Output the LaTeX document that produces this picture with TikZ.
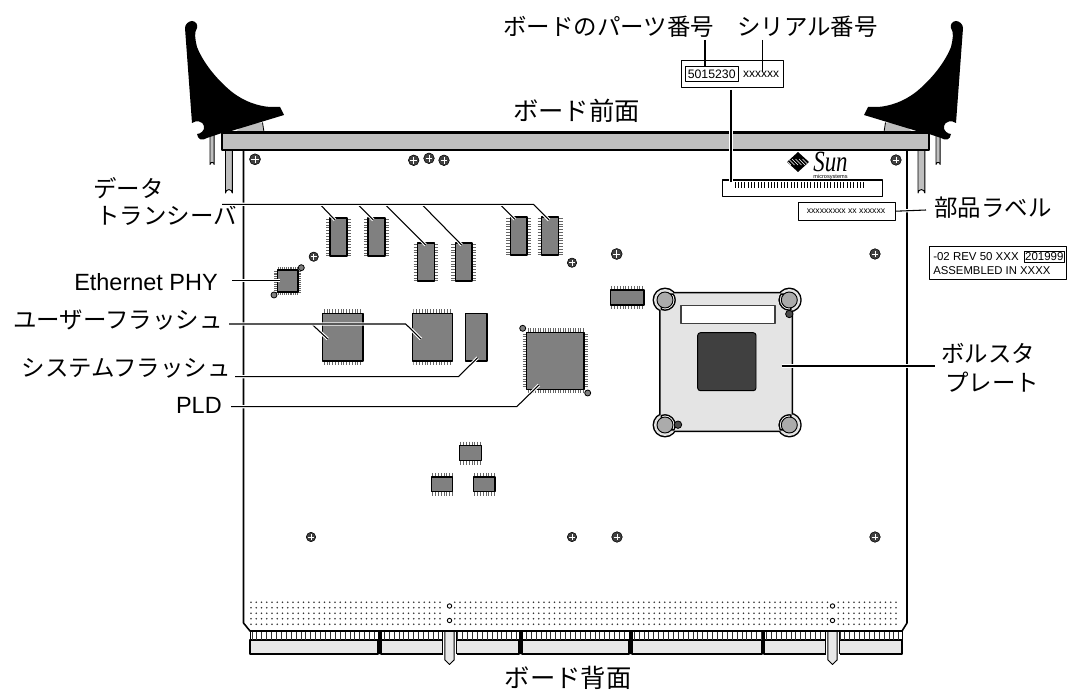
\documentclass[tikz,border=0pt]{standalone}
\usepackage{fontspec}
\setmainfont{Liberation Sans}
\newfontfamily\cjk{Noto Sans CJK JP}
\newfontfamily\sunf{Liberation Serif}
\tikzset{
  cjklabel/.style={inner sep=0pt,font=\cjk\fontsize{17.6}{17.6}\selectfont},
  cjkbig/.style={inner sep=0pt,font=\cjk\fontsize{19}{19}\selectfont},
  latin/.style={inner sep=0pt,font=\fontsize{17.6}{17.6}\selectfont},
  leader/.style={draw=black,line width=0.8pt,preaction={draw=white,line width=2.4pt}},
  chipbody/.style={fill=chipgray,draw=black,line width=0.9pt},
  legs/.style={draw=leggray,line width=0.7pt},
  ball/.style={fill=ballgray,draw=black,line width=0.6pt},
  labelbox/.style={draw=black,line width=0.7pt,fill=white},
}
\definecolor{chipgray}{HTML}{808080}
\definecolor{leggray}{HTML}{666666}
\definecolor{ballgray}{HTML}{808080}
\definecolor{bargray}{HTML}{BFBFBF}
\definecolor{plategray}{HTML}{E4E4E4}
\definecolor{holegray}{HTML}{ABABAB}
\definecolor{darkgray}{HTML}{404040}
\definecolor{connfill}{HTML}{E8E8E8}
\newcommand{\vchip}[4]{% x0 y0 x1 y1, legs left/right
  \pgfmathsetmacro\ya{#2+1.5}\pgfmathsetmacro\yb{#2+4.3}\pgfmathsetmacro\xl{#1-4}\pgfmathsetmacro\xr{#3+4}
  \foreach \yy in {\ya,\yb,...,#4} {\draw[legs] (\xl,\yy) -- (#1,\yy) (#3,\yy) -- (\xr,\yy);}
  \draw[chipbody] (#1,#2) rectangle (#3,#4);}
\newcommand{\hchip}[4]{% legs top/bottom
  \pgfmathsetmacro\xa{#1+1.5}\pgfmathsetmacro\xb{#1+4.3}\pgfmathsetmacro\yt{#2-4}\pgfmathsetmacro\yd{#4+4}
  \foreach \xx in {\xa,\xb,...,#3} {\draw[legs] (\xx,\yt) -- (\xx,#2) (\xx,#4) -- (\xx,\yd);}
  \draw[chipbody] (#1,#2) rectangle (#3,#4);}
\newcommand{\screw}[3]{% x y r
  \fill[black!75] (#1,#2) circle (#3);
  \draw[black,line width=0.4pt] (#1,#2) circle (#3);
  \draw[white,line width=0.45pt] ({#1-#3*0.65},#2) -- ({#1+#3*0.65},#2) (#1,{#2-#3*0.65}) -- (#1,{#2+#3*0.65});}
\newcommand{\latchshape}{%
  (185,28) .. controls (185,24) and (189,21) .. (192,21)
  .. controls (196,21) and (198,25) .. (197,28)
  .. controls (194,33) and (195,38) .. (197,47)
  .. controls (205,67) and (222,84) .. (232,92)
  .. controls (245,102) and (258,106) .. (270,107)
  -- (280,107) -- (284,115) -- (228,132) -- (222,133)
  -- (207,138) .. controls (202,141) and (198,140) .. (197,134)
  .. controls (200,134) and (205,131) .. (204,126)
  .. controls (203,121) and (196,120) .. (192,123) -- cycle}
\begin{document}
\begin{tikzpicture}[x=0.75pt,y=-0.75pt,line join=round]
\useasboundingbox (0,0) rectangle (1068,691);
% board
\fill[white] (243.5,150) rectangle (907,631);
\draw[line width=1.2pt] (243.5,150) -- (243.5,623) -- (250,631) -- (902,631) -- (907,623) -- (907,150);
% feet under latches
\fill[bargray] (244,124) -- (262.5,122.5) -- (264,132) -- (236,132) -- cycle;
\draw[line width=0.6pt] (262.5,122.5) -- (264,132);
\fill[bargray] (904,124) -- (885.5,122.5) -- (884,132) -- (912,132) -- cycle;
\draw[line width=0.6pt] (885.5,122.5) -- (884,132);
% pins
\draw[fill=bargray,line width=0.7pt] (210,135) -- (210,164.5) arc[start angle=180,end angle=360,radius=2.1] -- (214.2,135);
\draw[fill=bargray,line width=0.7pt] (225.5,150) -- (225.5,193) arc[start angle=180,end angle=360,radius=3.4] -- (232.3,150);
\draw[fill=bargray,line width=0.7pt] (936,135) -- (936,164.5) arc[start angle=180,end angle=360,radius=2.1] -- (940.2,135);
\draw[fill=bargray,line width=0.7pt] (918,150) -- (918,193) arc[start angle=180,end angle=360,radius=3.4] -- (924.8,150);
% latches
\fill[black] \latchshape;
\begin{scope}[xshift=861pt,xscale=-1]
\fill[black] \latchshape;
\end{scope}
% bar
\draw[fill=bargray,line width=0.8pt] (222,133) rectangle (929,150);
\draw[line width=1.8pt] (222,132) -- (929,132);
% screws
\foreach \sx/\sy/\sr in {255/159.3/5.5,413.7/160.3/5.3,429/158.3/5.3,444/160.3/5.3,896/160/5.3,875/254/5.3,313.7/256.7/4.7,572/262.7/4.7,616.7/254/5.5,311/537/4.7,572/537/4.7,617/537/5.3,875/537/5.3}{\screw{\sx}{\sy}{\sr}}
% chips
\vchip{330}{218}{347}{256}
\vchip{368}{218}{385}{256}
\vchip{417.7}{243}{434.3}{281}
\vchip{455.3}{243}{472}{281}
\vchip{510.3}{217}{527}{255}
\vchip{541.7}{217}{558.7}{255}
% ethernet
\foreach \yy in {271,272.9,...,292}{\draw[legs,line width=0.5pt] (274.3,\yy) -- (301,\yy);}
\foreach \xx in {278.5,280.4,...,298}{\draw[legs,line width=0.5pt] (\xx,267) -- (\xx,295);}
\draw[chipbody] (277.3,270) rectangle (298,292);
\draw[ball] (301.3,267.7) circle (3);
\draw[ball] (274,295) circle (3);
% flashes
\hchip{322.7}{313.3}{363}{361}
\fill[white] (322,308) rectangle (323.8,366) (361.6,308) rectangle (364,366);
\draw[chipbody] (322.7,313.3) rectangle (363,361);
\hchip{412.3}{313.3}{452.3}{361}
\fill[white] (411,308) rectangle (413.4,366) (451.2,308) rectangle (454,366);
\draw[chipbody] (412.3,313.3) rectangle (452.3,361);
\draw[chipbody] (465.3,313.3) rectangle (487,361);
% PLD
\foreach \yy in {334,336.5,...,388.5}{\draw[legs] (522.5,\yy) -- (526.7,\yy) (584,\yy) -- (588.2,\yy);}
\foreach \xx in {528,530.5,...,583}{\draw[legs] (\xx,328.5) -- (\xx,332.7) (\xx,389.3) -- (\xx,393.5);}
\draw[chipbody] (526.7,332.7) rectangle (584,389.3);
\draw[ball] (522.7,328.3) circle (3);
\draw[ball] (587.7,393) circle (3);
% small chips
\hchip{610.3}{290}{644}{305}
\hchip{459.3}{445.7}{481.3}{460.7}
\hchip{431.3}{477}{452.7}{491.7}
\hchip{473.3}{477}{495}{491.7}
% bolster plate
\draw[line width=2.2pt] (660.7,293.3) rectangle (791.7,430.7)
  (665,300) circle (11) (789.3,300) circle (11) (665,425) circle (11) (789.3,425) circle (11);
\fill[plategray] (660.7,293.3) rectangle (791.7,430.7)
  (665,300) circle (11) (789.3,300) circle (11) (665,425) circle (11) (789.3,425) circle (11);
\draw[fill=holegray,line width=0.7pt] (665,300) circle (8) (789.3,300) circle (8) (665,425) circle (8) (789.3,425) circle (8);
\draw[fill=black!70,line width=0.6pt] (789.3,314) circle (3.7) (678,424.7) circle (3.7);
\draw[fill=white,draw=darkgray,line width=0.9pt] (681,305.7) rectangle (775,323.3);
\draw[fill=darkgray,draw=black,line width=0.7pt,rounded corners=2pt] (697.7,332.7) rectangle (756,390.7);
% Sun logo
\begin{scope}
\clip (798,152) -- (809,162) -- (798,172) -- (787,162) -- cycle;
\fill[black] (786,151) rectangle (810,173);
\foreach \k in {-10,-6.5,...,10}{\draw[white,line width=0.4pt] (798+\k,162) +(-3,-3) -- +(3,3);}
\end{scope}
\node[inner sep=0pt,xscale=0.78,font=\sunf\itshape\fontsize{22}{22}\selectfont] (sunword) at (830.5,162) {Sun};
\node[inner sep=0pt,font=\fontsize{4.2}{4.2}\selectfont] (sunsub) at (830.5,177) {microsystems};
% connector
\foreach \xa/\xb in {250/378,381/519,522/629,632/762,764/902}{
  \draw[fill=connfill,line width=1pt] (\xa,640) rectangle (\xb,654);
  \draw[line width=0.5pt] (\xa,631) -- (\xa,640) (\xb,631) -- (\xb,640);
}
\foreach \xx in {252,256.9,...,901}{\draw[line width=0.7pt,black!80] (\xx,631.5) -- (\xx,640);}
\fill[black] (378,631) rectangle (381,654) (519,631) rectangle (522,654) (629,631) rectangle (632,654) (762,631) rectangle (764,654);
\draw[line width=1.2pt] (250,631) -- (902,631);
\foreach \cx in {449.5,832.5}{
  \fill[white] ({\cx-7},632) rectangle ({\cx+7},654.6);
  \draw[line width=0.7pt] ({\cx-7},632) -- ({\cx-7},654) ({\cx+7},632) -- ({\cx+7},654);
  \draw[fill=connfill,line width=0.7pt] ({\cx-4.6},632) -- ({\cx-4.6},660) -- (\cx,664.5) -- ({\cx+4.6},660) -- ({\cx+4.6},632);
}
% contact dots
\foreach \yy in {602.2,607.8,613.2,618.8,624.2}{
  \foreach \xx in {251,256.25,...,445,454.75,460,...,828,838.25,843.5,...,901}{
    \fill[black!80] (\xx,\yy) circle (0.85);
  }
}
\foreach \cx in {449.5,832.5}{
  \draw[fill=white,line width=0.7pt] (\cx,606) circle (2.2) (\cx,620.5) circle (2.2);
}
% labels on the board
\draw[labelbox,line width=0.8pt] (722.3,180) rectangle (882.3,196.7);
\foreach \xx in {735,738.3,...,867}{\draw[line width=0.7pt] (\xx,182) -- (\xx,188.5);}
\node[labelbox,minimum width=73pt,minimum height=13.2pt,inner sep=0pt] (partlabel) at (847,211.2) {};
\node[inner sep=0pt,font=\fontsize{6.5}{6.5}\selectfont] (partx) at (846,211) {xxxxxxxxx xx xxxxxx};
\node[labelbox,minimum width=76.7pt,minimum height=20pt,inner sep=0pt] (topbox) at (732.2,74) {};
\node[draw=black,line width=0.8pt,minimum width=40pt,minimum height=11.2pt,inner sep=0pt,font=\fontsize{9.2}{9.2}\selectfont] (pn) at (711.7,74.2) {5015230};
\node[inner sep=0pt,font=\fontsize{9}{9}\selectfont] (sn) at (761,74.5) {xxxxxx};
\node[labelbox,minimum width=103pt,minimum height=24.5pt,inner sep=0pt] (asmbox) at (998,263) {};
\node[anchor=west,inner sep=0pt,font=\fontsize{8.6}{8.6}\selectfont] (rev) at (933,257) {-02 REV 50 XXX};
\node[draw=black,line width=0.7pt,minimum width=30pt,minimum height=8pt,inner sep=0pt,font=\fontsize{8.6}{8.6}\selectfont] (date) at (1044.3,257) {201999};
\node[anchor=west,inner sep=0pt,font=\fontsize{8.5}{8.5}\selectfont] (asm) at (933,271) {ASSEMBLED IN XXXX};
% text labels
\node[cjklabel,anchor=west] (tpn) at (503,27) {ボードのパーツ番号};
\node[cjklabel,anchor=west] (tsn) at (737,27) {シリアル番号};
\node[cjkbig,anchor=center] (tfront) at (576.5,111) {ボード前面};
\node[cjkbig,anchor=center] (tback) at (568,678) {ボード背面};
\node[cjklabel,anchor=west] (tdata) at (93,187.7) {データ};
\node[cjklabel,anchor=west] (ttrans) at (96,215) {トランシーバ};
\node[cjklabel,anchor=west] (tpart) at (934,208) {部品ラベル};
\node[cjklabel,anchor=west] (tbol) at (941,353) {ボルスタ};
\node[cjklabel,anchor=west] (tpla) at (945,382) {プレート};
\node[cjklabel,anchor=east] (tuser) at (223,320) {ユーザーフラッシュ};
\node[cjklabel,anchor=east] (tsys) at (231,368) {システムフラッシュ};
\node[latin,anchor=east] (teth) at (218,282) {Ethernet PHY};
\node[latin,anchor=east] (tpld) at (222,405.7) {PLD};
% leaders
\coordinate (dl) at (222,204.3);
\coordinate (de) at (533.3,204.3);
\coordinate (c1) at (335,220); \coordinate (c2) at (373.3,220); \coordinate (c3) at (425.7,245);
\coordinate (c4) at (461.7,245); \coordinate (c5) at (515,219.3); \coordinate (c6) at (549,220);
\coordinate (b1) at (320,204.3); \coordinate (b2) at (357.7,204.3); \coordinate (b3) at (385,204.3);
\coordinate (b4) at (421.7,204.3); \coordinate (b5) at (500,204.3);
\path[leader] (b1) -- (c1);
\path[leader] (b2) -- (c2);
\path[leader] (b3) -- (c3);
\path[leader] (b4) -- (c4);
\path[leader] (b5) -- (c5);
\path[leader] (dl) -- (de) -- (c6);
\coordinate (e0) at (232,280.7); \coordinate (e1) at (280,280.7);
\path[leader] (e0) -- (e1);
\coordinate (u0) at (229,324); \coordinate (u1) at (405.7,324); \coordinate (u2) at (421,339);
\coordinate (ub) at (311.7,324); \coordinate (ub2) at (327.7,339);
\path[leader] (ub) -- (ub2);
\path[leader] (u0) -- (u1) -- (u2);
\coordinate (s0) at (235,376.7); \coordinate (s1) at (458.3,376.7); \coordinate (s2) at (477.7,357.7);
\path[leader] (s0) -- (s1) -- (s2);
\coordinate (p0) at (231,406.7); \coordinate (p1) at (516.7,406.7); \coordinate (p2) at (539,385);
\path[leader] (p0) -- (p1) -- (p2);
\coordinate (bp0) at (781.7,366); \coordinate (bp1) at (935,366);
\path[leader] (bp0) -- (bp1);
\coordinate (pl1) at (926,210);
\path[leader] (partlabel.east) -- (pl1);
\coordinate (a0) at (705,40); \coordinate (a1) at (705,67);
\draw[line width=0.8pt] (a0) -- (a1);
\coordinate (a2) at (762.7,40); \coordinate (a3) at (762.7,71.7);
\draw[line width=0.8pt] (a2) -- (a3);
\coordinate (a4) at (731,90); \coordinate (a5) at (731,182);
\path[leader] (a4) -- (a5);
\end{tikzpicture}
\end{document}
